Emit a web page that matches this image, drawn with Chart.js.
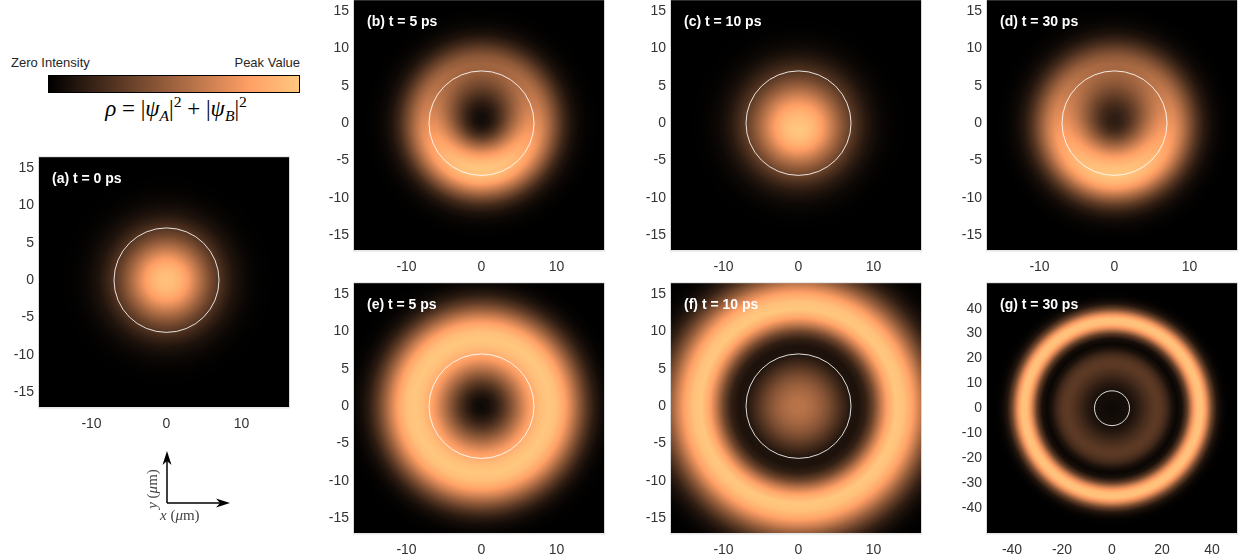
<!DOCTYPE html>
<html><head><meta charset="utf-8">
<script src="https://cdn.jsdelivr.net/npm/chart.js@4.4.1/dist/chart.umd.min.js"></script>
<style>
html,body{margin:0;padding:0;background:#fff;}
body{width:1243px;height:556px;position:relative;overflow:hidden;font-family:'Liberation Sans',Arial,sans-serif;}
canvas.panel{position:absolute;}
.lbl{position:absolute;color:#262626;font-size:13px;white-space:nowrap;line-height:1;}
.math{position:absolute;font-family:'Liberation Serif','DejaVu Serif',serif;color:#000;white-space:nowrap;line-height:1;}
.math sub,.math sup{font-size:68%;}
</style></head><body>

<div class="lbl" style="left:11px;top:56px;">Zero Intensity</div>
<div class="lbl" style="left:205px;top:56px;width:95px;text-align:right;">Peak Value</div>
<canvas id="cbar" width="252" height="18" style="position:absolute;left:48px;top:75px;"></canvas>
<div class="math" style="left:56px;top:94px;width:240px;text-align:center;font-size:23px;"><i>ρ</i> = |<i>ψ</i><sub><i>A</i></sub>|<sup>2</sup> + |<i>ψ</i><sub><i>B</i></sub>|<sup>2</sup></div>

<svg style="position:absolute;left:0;top:0;" width="1243" height="556">
  <line x1="167" y1="503" x2="167" y2="460" stroke="#000" stroke-width="1.5"/>
  <polygon points="167,451 162.5,465 167,461 171.5,465" fill="#000"/>
  <line x1="167" y1="503" x2="221" y2="503" stroke="#000" stroke-width="1.5"/>
  <polygon points="230,503 216,498.5 220,503 216,507.5" fill="#000"/>
</svg>
<div class="math" style="left:160px;top:508px;font-size:15px;color:#444;"><i>x</i> (<i>μ</i>m)</div>
<div class="math" style="left:152px;top:489px;font-size:15px;color:#444;transform:translate(-50%,-50%) rotate(-90deg);"><i>y</i> (<i>μ</i>m)</div>

<script>
// ---------------- data ----------------
// radial coordinate (μm) for the zoomed panels (a)-(f)
const radiiZoom = [0,1,2,3,4,5,6,7,8,9,10,11,12,13,14,15,16,17,18,19,20,21,22,23,24,25];
// radial coordinate (μm) for the wide panel (g)
const radiiWide = [0,2,4,6,8,10,12,14,16,18,20,22,24,26,28,30,32,34,36,38,40,42,44,46,48,50];

// normalised density rho read along +y ("up") and -y ("down") from the centre
const rhoA      = [0.97,0.95,0.88,0.77,0.63,0.49,0.36,0.26,0.17,0.10,0.06,0.03,0.015,0.006,0.002,0,0,0,0,0,0,0,0,0,0,0];
const rhoB_up   = [0.06,0.06,0.10,0.17,0.26,0.35,0.43,0.49,0.50,0.44,0.32,0.19,0.09,0.04,0.015,0.005,0,0,0,0,0,0,0,0,0,0];
const rhoB_down = [0.06,0.14,0.30,0.52,0.74,0.91,1.00,0.97,0.84,0.62,0.40,0.21,0.10,0.04,0.015,0.004,0,0,0,0,0,0,0,0,0,0];
const rhoC_up   = [0.97,0.93,0.85,0.74,0.61,0.48,0.36,0.26,0.18,0.11,0.06,0.03,0.015,0.006,0.002,0,0,0,0,0,0,0,0,0,0,0];
const rhoC_down = [0.97,1.00,0.97,0.88,0.75,0.60,0.46,0.34,0.23,0.14,0.08,0.04,0.02,0.008,0.003,0,0,0,0,0,0,0,0,0,0,0];
const rhoD_up   = [0.14,0.15,0.19,0.26,0.34,0.42,0.48,0.52,0.52,0.45,0.33,0.20,0.10,0.045,0.018,0.006,0,0,0,0,0,0,0,0,0,0];
const rhoD_down = [0.14,0.20,0.34,0.52,0.71,0.87,0.97,1.00,0.92,0.74,0.51,0.30,0.15,0.065,0.025,0.008,0,0,0,0,0,0,0,0,0,0];
const rhoE      = [0.04,0.07,0.15,0.27,0.42,0.58,0.74,0.87,0.96,1.00,0.96,0.84,0.66,0.46,0.28,0.14,0.06,0.02,0.006,0,0,0,0,0,0,0];
const rhoF      = [0.58,0.57,0.53,0.47,0.39,0.29,0.19,0.10,0.09,0.16,0.35,0.62,0.86,1.00,0.97,0.85,0.67,0.47,0.30,0.16,0.08,0.03,0.01,0,0,0];
const rhoG      = [0.05,0.05,0.06,0.07,0.09,0.13,0.18,0.23,0.27,0.29,0.27,0.20,0.09,0.03,0.08,0.30,0.68,0.96,0.98,0.70,0.34,0.11,0.03,0.005,0,0];

// white reference circle radius (μm)
const ringRadius = 7;

// panel titles
const titles = ['(a) t = 0 ps','(b) t = 5 ps','(c) t = 10 ps','(d) t = 30 ps','(e) t = 5 ps','(f) t = 10 ps','(g) t = 30 ps'];

// tick labels
const xTicksZoom = [-10,0,10];
const yTicksZoom = [-15,-10,-5,0,5,10,15];
const xTicksWide = [-40,-20,0,20,40];
const yTicksWide = [-40,-30,-20,-10,0,10,20,30,40];

// axis limits
const xLimZoom = [-17,16.33];
const yLimZoom = [-17,16.45];
const xLimWide = [-50,50];
const yLimWide = [-50.2,50.2];

// ---------------- helpers ----------------
function copper(v){
  v = Math.max(0, Math.min(1, v));
  return [Math.min(1,1.25*v)*255, 0.7812*v*255, 0.4975*v*255];
}
function interp(rs, vs, r){
  if (r <= rs[0]) return vs[0];
  for (let i=1;i<rs.length;i++){
    if (r <= rs[i]){ const t=(r-rs[i-1])/(rs[i]-rs[i-1]); return vs[i-1]+(vs[i]-vs[i-1])*t; }
  }
  return vs[vs.length-1];
}

// colour bar
(function(){
  const c = document.getElementById('cbar'), g = c.getContext('2d');
  const grd = g.createLinearGradient(1,0,251,0);
  for (let i=0;i<=50;i++){ const col=copper(i/50); grd.addColorStop(i/50,`rgb(${col[0]|0},${col[1]|0},${col[2]|0})`); }
  g.fillStyle = grd; g.fillRect(1,1,250,16);
  g.strokeStyle = '#000'; g.lineWidth = 1; g.strokeRect(0.5,0.5,251,17);
})();

// ---------------- panels ----------------
const panels = [
  {title:titles[0], left:39,  top:157, radii:radiiZoom, up:rhoA,    down:rhoA,      xl:xLimZoom, yl:yLimZoom, xt:xTicksZoom, yt:yTicksZoom},
  {title:titles[1], left:354, top:0,   radii:radiiZoom, up:rhoB_up, down:rhoB_down, xl:xLimZoom, yl:yLimZoom, xt:xTicksZoom, yt:yTicksZoom},
  {title:titles[2], left:671, top:0,   radii:radiiZoom, up:rhoC_up, down:rhoC_down, xl:xLimZoom, yl:yLimZoom, xt:xTicksZoom, yt:yTicksZoom},
  {title:titles[3], left:987, top:0,   radii:radiiZoom, up:rhoD_up, down:rhoD_down, xl:xLimZoom, yl:yLimZoom, xt:xTicksZoom, yt:yTicksZoom},
  {title:titles[4], left:354, top:283, radii:radiiZoom, up:rhoE,    down:rhoE,      xl:xLimZoom, yl:yLimZoom, xt:xTicksZoom, yt:yTicksZoom},
  {title:titles[5], left:671, top:283, radii:radiiZoom, up:rhoF,    down:rhoF,      xl:xLimZoom, yl:yLimZoom, xt:xTicksZoom, yt:yTicksZoom},
  {title:titles[6], left:987, top:283, radii:radiiWide, up:rhoG,    down:rhoG,      xl:xLimWide, yl:yLimWide, xt:xTicksWide, yt:yTicksWide}
];
const AREA_W = 250, AREA_H = 251, PADL = 50, PADT = 12, PADR = 10, PADB = 30;

panels.forEach(p => {
  const cv = document.createElement('canvas');
  cv.className = 'panel';
  cv.width = AREA_W + PADL + PADR; cv.height = AREA_H + PADT + PADB;
  cv.style.left = (p.left - PADL) + 'px'; cv.style.top = (p.top - PADT) + 'px';
  document.body.appendChild(cv);

  const fieldPlugin = {
    id: 'field',
    beforeDatasetsDraw(chart){
      const {ctx, chartArea: ca, scales:{x, y}} = chart;
      const w = Math.round(ca.right - ca.left), h = Math.round(ca.bottom - ca.top);
      const off = document.createElement('canvas'); off.width = w; off.height = h;
      const octx = off.getContext('2d'); const img = octx.createImageData(w, h);
      for (let j=0;j<h;j++){
        const yv = y.getValueForPixel(ca.top + j + 0.5);
        for (let i=0;i<w;i++){
          const xv = x.getValueForPixel(ca.left + i + 0.5);
          const r = Math.hypot(xv, yv); const s = r > 0 ? yv / r : 0;
          const v = interp(p.radii, p.up, r)*(1+s)/2 + interp(p.radii, p.down, r)*(1-s)/2;
          const c = copper(v); const k = (j*w + i)*4;
          img.data[k]=c[0]; img.data[k+1]=c[1]; img.data[k+2]=c[2]; img.data[k+3]=255;
        }
      }
      octx.putImageData(img, 0, 0);
      ctx.save();
      ctx.drawImage(off, ca.left, ca.top);
      // reference circle
      const cx = x.getPixelForValue(0), cy = y.getPixelForValue(0);
      const rx = x.getPixelForValue(ringRadius) - cx, ry = cy - y.getPixelForValue(ringRadius);
      ctx.beginPath(); ctx.ellipse(cx, cy, rx, ry, 0, 0, Math.PI*2);
      ctx.strokeStyle = 'rgba(255,255,255,0.85)'; ctx.lineWidth = 1; ctx.stroke();
      // frame
      ctx.strokeStyle = 'rgba(190,190,190,0.6)'; ctx.lineWidth = 1;
      ctx.strokeRect(ca.left - 0.5, ca.top - 0.5, w + 1, h + 1);
      // panel title
      ctx.fillStyle = '#fff'; ctx.font = 'bold 14px "Liberation Sans", Arial, sans-serif';
      ctx.textBaseline = 'middle'; ctx.textAlign = 'left';
      ctx.fillText(p.title, ca.left + 13, ca.top + 22);
      ctx.restore();
    }
  };

  const tickFont = {family:'"Liberation Sans", Arial, sans-serif', size:14};
  const chart = new Chart(cv, {
    type: 'scatter',
    data: {datasets: [{data: []}]},
    options: {
      responsive: false, animation: false, devicePixelRatio: 1,
      layout: {padding: {left: 0, top: PADT, right: PADR, bottom: 0}},
      plugins: {legend: {display: false}, tooltip: {enabled: false}},
      scales: {
        x: {type:'linear', min:p.xl[0], max:p.xl[1],
            grid:{display:false, drawTicks:false}, border:{display:false},
            ticks:{color:'#333', font:tickFont, padding:9, maxRotation:0},
            afterBuildTicks: s => { s.ticks = p.xt.map(v => ({value:v})); },
            afterFit: s => { s.height = PADB; }},
        y: {type:'linear', min:p.yl[0], max:p.yl[1],
            grid:{display:false, drawTicks:false}, border:{display:false},
            ticks:{color:'#333', font:tickFont, padding:5},
            afterBuildTicks: s => { s.ticks = p.yt.map(v => ({value:v})); },
            afterFit: s => { s.width = PADL; }}
      }
    },
    plugins: [fieldPlugin]
  });
  // make the plot area exactly AREA_W x AREA_H and place it at the target position
  let ca = chart.chartArea;
  const dw = AREA_W - (ca.right - ca.left), dh = AREA_H - (ca.bottom - ca.top);
  if (Math.abs(dw) > 0.5 || Math.abs(dh) > 0.5) { chart.resize(cv.width + dw, cv.height + dh); ca = chart.chartArea; }
  cv.style.left = (p.left - ca.left) + 'px';
  cv.style.top = (p.top - ca.top) + 'px';
});
</script>
</body></html>
